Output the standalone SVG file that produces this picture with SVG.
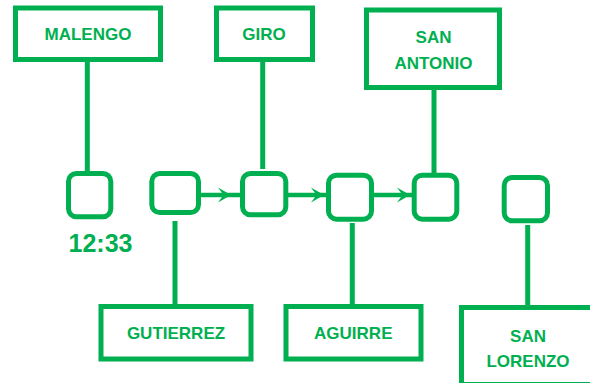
<svg xmlns="http://www.w3.org/2000/svg" width="590" height="383" viewBox="0 0 590 383">
<style>
.box{fill:#fff;stroke:#00b050;stroke-width:5}
.sq{fill:#fff;stroke:#00b050;stroke-width:5}
.ln{stroke:#00b050;stroke-width:5;fill:none}
.ar{stroke:#00b050;stroke-width:4.5;fill:none}
.ah{fill:#00b050}
.t{font-family:"Liberation Sans",Arial,sans-serif;font-weight:bold;font-size:17px;fill:#00b050;text-anchor:middle}
.time{font-size:25px}
</style>
<rect width="590" height="383" fill="#fff"/>
<g id="connectors">
<line class="ln" x1="87.3" y1="62" x2="87.3" y2="172"/>
<line class="ln" x1="262.7" y1="62" x2="262.7" y2="169"/>
<line class="ln" x1="434" y1="90" x2="434" y2="173"/>
<line class="ln" x1="175" y1="221" x2="175" y2="305"/>
<line class="ln" x1="352.3" y1="223" x2="352.3" y2="305"/>
<line class="ln" x1="527.7" y1="225" x2="527.7" y2="306"/>
<line class="ar" x1="201" y1="195" x2="241" y2="195"/>
<polygon class="ah" points="231,195 218,187.5 223.5,195 218,202.5"/>
<line class="ar" x1="288" y1="195" x2="327" y2="195"/>
<polygon class="ah" points="324,195 311,187.5 316.5,195 311,202.5"/>
<line class="ar" x1="374" y1="195" x2="412" y2="195"/>
<polygon class="ah" points="410,195 397,187.5 402.5,195 397,202.5"/>
</g>
<g id="malengo"><rect class="box" x="15.5" y="8" width="145" height="51.5"/><text class="t" x="88" y="40">MALENGO</text></g>
<g id="giro"><rect class="box" x="216.5" y="8" width="96" height="51.5"/><text class="t" x="264" y="40">GIRO</text></g>
<g id="san-antonio"><rect class="box" x="366.5" y="10" width="133" height="77.5"/><text class="t" x="433.5" y="43">SAN</text><text class="t" x="433.5" y="68.5">ANTONIO</text></g>
<g id="sq1"><rect class="sq" x="68.5" y="173.5" width="42.3" height="43.3" rx="8"/></g>
<g id="time"><text class="t time" x="100.5" y="252">12:33</text></g>
<g id="sq2"><rect class="sq" x="151.8" y="173.5" width="46.7" height="39" rx="8"/></g>
<g id="sq3"><rect class="sq" x="242.5" y="173.5" width="43.3" height="41.3" rx="8"/></g>
<g id="sq4"><rect class="sq" x="328.5" y="175.2" width="43" height="44" rx="8"/></g>
<g id="sq5"><rect class="sq" x="414.2" y="175.2" width="42.6" height="44" rx="8"/></g>
<g id="sq6"><rect class="sq" x="504.2" y="177.5" width="43.3" height="43.3" rx="8"/></g>
<g id="gutierrez"><rect class="box" x="101" y="306.5" width="150" height="52.5"/><text class="t" x="176" y="339">GUTIERREZ</text></g>
<g id="aguirre"><rect class="box" x="286" y="306.5" width="135" height="52.5"/><text class="t" x="353.3" y="339">AGUIRRE</text></g>
<g id="san-lorenzo"><rect class="box" x="461.5" y="307.5" width="140" height="77"/><text class="t" x="528" y="342">SAN</text><text class="t" x="528" y="367">LORENZO</text></g>
</svg>
